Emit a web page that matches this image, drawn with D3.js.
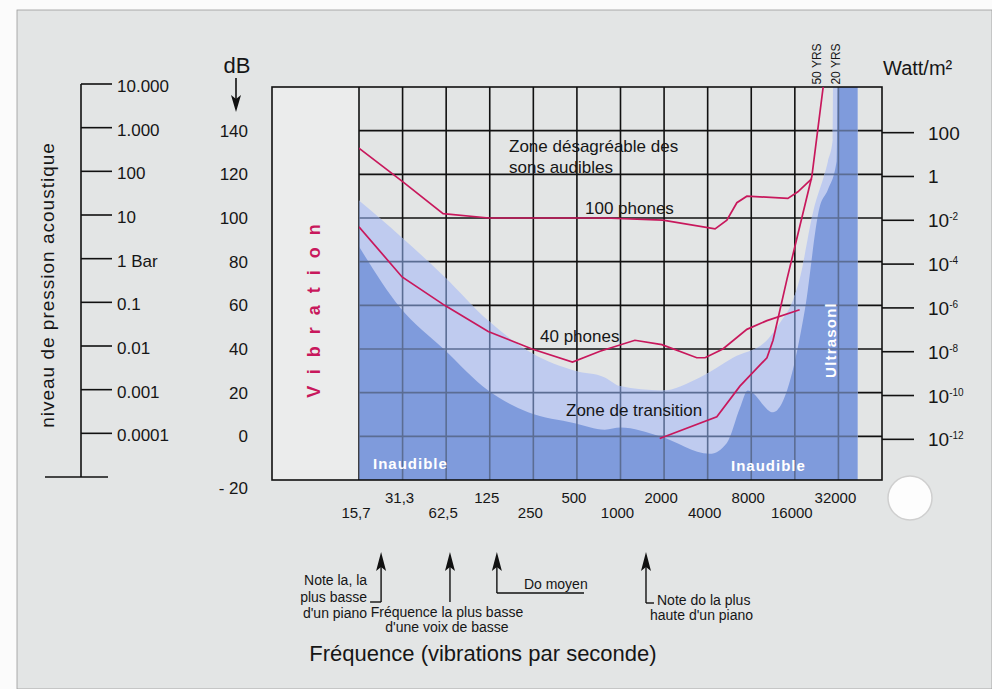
<!DOCTYPE html>
<html>
<head>
<meta charset="utf-8">
<script src="https://cdn.jsdelivr.net/npm/d3@7"></script>
<style>
	body { margin: 0; background: #fff; }
	svg { display: block; }
	text { font-family: 'Liberation Sans', Arial, sans-serif; fill: #161616; }
	.nar { font-family: 'Liberation Sans Narrow', 'Liberation Sans', sans-serif; }
</style>
</head>
<body>
<div id="chart"></div>
<script>
// x axis: octave bands (Hz) and printed labels
const freqTicks = [15.625, 31.25, 62.5, 125, 250, 500, 1000, 2000, 4000, 8000, 16000, 32000];
const freqLabels = ['15,7', '31,3', '62,5', '125', '250', '500', '1000', '2000', '4000', '8000', '16000', '32000'];

// left scales
const dbTicks = [140, 120, 100, 80, 60, 40, 20, 0, -20];
const pressureTicks = [10000, 1000, 100, 10, 1, 0.1, 0.01, 0.001, 0.0001];
const pressureLabels = ['10.000', '1.000', '100', '10', '1 Bar', '0.1', '0.01', '0.001', '0.0001'];

// right scale
const wattTicks = [1e2, 1, 1e-2, 1e-4, 1e-6, 1e-8, 1e-10, 1e-12];
const wattBase = ['100', '1', '10', '10', '10', '10', '10', '10'];
const wattExp = ['', '', '-2', '-4', '-6', '-8', '-10', '-12'];

// pale zone (upper edge of transition zone), Hz / dB
const paleFreq = [15.6, 31, 61, 122, 245, 483, 779, 993, 1931, 3530, 5978, 10267, 12641, 15455, 17267, 21260, 27100, 29240, 29400, 43400];
const paleDb = [108, 91, 73, 53, 38, 30, 27, 23, 21, 27, 36, 44, 52, 62, 72, 102, 126, 136, 165, 165];

// dark zone (inaudible), Hz / dB
const darkFreq = [15.6, 30, 60, 122, 230, 483, 779, 1000, 1866, 4141, 5428, 6680, 7568, 11314, 13000, 18767, 23750, 27100, 31100, 31700, 43400];
const darkDb = [87, 59, 40, 21, 11, 6, 3, 4, 0, -8, -3, 13, 21, 11, 15, 58, 105, 113, 126, 165, 165];

// isophone curves
const phon100Freq = [15.6, 30.8, 59.5, 123, 779, 1959, 4500, 5428, 6363, 7464, 14322, 16797, 20970];
const phon100Db = [132, 117, 102, 100, 100, 99, 95, 99, 107, 110, 109, 112, 118];
const phon40Freq = [15.6, 31, 61, 122, 245, 466, 722, 1257, 1931, 3364, 3837, 5096, 7464, 10267, 17267];
const phon40Db = [96, 73, 60, 48, 40, 34, 39, 44, 42, 36, 36, 40, 49, 53, 58];

// upper limit of hearing at 50 years
const yrs50Freq = [1866, 4627, 6680, 10267, 11314, 14125, 20970, 25110];
const yrs50Db = [-1, 9, 23, 36, 44, 72, 119, 160];

// piano / voice markers
const noteFreqs = [22.2, 66.4, 140, 1500];

const W = 992, H = 689;
const svg = d3.select('#chart').append('svg').attr('width', W).attr('height', H);

// page
svg.append('rect').attr('width', W).attr('height', H).attr('fill', '#fbfbfb');
svg.append('rect').attr('x', 17).attr('y', 10).attr('width', W - 17).attr('height', H - 10)
	.attr('fill', '#e3e5e5').attr('stroke', '#9a9a9a').attr('stroke-width', 0.8);

const x = d3.scaleLog().base(2).domain([15.625, 64000]).range([359, 882]);
const y = d3.scaleLinear().domain([-20, 160]).range([480, 87]);
const pressure = d3.scaleLog().domain([1e-4, 1e4]).range([y(0) - 3, y(160) - 3]);
const watt = d3.scaleLog().domain([1e-12, 1e2]).range([y(0) + 3, y(140) + 2]);

const x0 = 272;
// vibration column
svg.append('rect').attr('x', x0).attr('y', y(160)).attr('width', x(15.625) - x0).attr('height', y(-20) - y(160))
	.attr('fill', '#ebecec');

const defs = svg.append('defs');
defs.append('clipPath').attr('id', 'plotClip').append('rect')
	.attr('x', x(15.625)).attr('y', y(160)).attr('width', x(64000) - x(15.625)).attr('height', y(-20) - y(160));

const area = d3.area()
	.x(d => x(d[0]))
	.y0(y(-20))
	.y1(d => y(d[1]))
	.curve(d3.curveMonotoneX);
const paleData = d3.zip(paleFreq, paleDb);
const darkData = d3.zip(darkFreq, darkDb);

defs.append('clipPath').attr('id', 'blueClip').append('path').attr('d', area(paleData));

// grid (black)
function drawGrid(g, color) {
	g.selectAll('.v')
		.data(freqTicks)
		.join('line')
		.attr('x1', d => x(d)).attr('x2', d => x(d))
		.attr('y1', y(160)).attr('y2', y(-20))
		.attr('stroke', color).attr('stroke-width', 1.6);
	g.selectAll('.h')
		.data([0, 20, 40, 60, 80, 100, 120, 140])
		.join('line')
		.attr('x1', x(15.625)).attr('x2', x(64000))
		.attr('y1', d => y(d)).attr('y2', d => y(d))
		.attr('stroke', color).attr('stroke-width', 1.6);
}
drawGrid(svg.append('g'), '#111');

// zones
const zones = svg.append('g').attr('clip-path', 'url(#plotClip)');
zones.append('path').attr('d', area(paleData)).attr('fill', '#bfcbef');
zones.append('path').attr('d', area(darkData)).attr('fill', '#7f9bdc');

// grid seen through the blue
drawGrid(svg.append('g').attr('clip-path', 'url(#blueClip)'), '#5b6d93');

// frame
svg.append('rect').attr('x', x0).attr('y', y(160)).attr('width', x(64000) - x0).attr('height', y(-20) - y(160))
	.attr('fill', 'none').attr('stroke', '#111').attr('stroke-width', 1.6);

// right ticks
svg.append('g').selectAll('line')
	.data(wattTicks)
	.join('line')
	.attr('x1', x(64000)).attr('x2', 914)
	.attr('y1', d => watt(d)).attr('y2', d => watt(d))
	.attr('stroke', '#111').attr('stroke-width', 1.6);

// curves
const line = d3.line().x(d => x(d[0])).y(d => y(d[1]));
const curves = svg.append('g').attr('clip-path', 'url(#plotClip)')
	.attr('fill', 'none').attr('stroke', '#c8185c').attr('stroke-width', 1.7);
curves.append('path').attr('d', line(d3.zip(phon100Freq, phon100Db)));
curves.append('path').attr('d', line(d3.zip(phon40Freq, phon40Db)));
curves.append('path').attr('d', line(d3.zip(yrs50Freq, yrs50Db)));

// texts in the plot
const t = svg.append('g').style('font-size', '17px');
t.append('text').attr('x', 509).attr('y', 152).text('Zone désagréable des');
t.append('text').attr('x', 509).attr('y', 173).text('sons audibles');
t.append('text').attr('x', 585).attr('y', 214).text('100 phones');
t.append('text').attr('x', 540).attr('y', 342).text('40 phones');
t.append('text').attr('x', 566).attr('y', 416).text('Zone de transition');

svg.append('text').attr('x', 373).attr('y', 469).style('font-size', '15px').style('font-weight', 'bold')
	.style('letter-spacing', '1px').style('fill', '#fff').text('Inaudible');
svg.append('text').attr('x', 731).attr('y', 471).style('font-size', '15px').style('font-weight', 'bold')
	.style('letter-spacing', '1px').style('fill', '#fff').text('Inaudible');
svg.append('text').attr('transform', 'translate(836,340) rotate(-90)').attr('text-anchor', 'middle')
	.style('font-size', '15px').style('font-weight', 'bold').style('letter-spacing', '1.2px')
	.style('fill', '#fff').text('Ultrasonl');
svg.append('text').attr('transform', 'translate(320,305) rotate(-90)').attr('text-anchor', 'middle')
	.style('font-size', '18px').style('font-weight', 'bold').style('letter-spacing', '12px')
	.style('fill', '#c8185c').text('Vibration');

svg.append('text').attr('class', 'nar').attr('transform', 'translate(821,64) rotate(-90)').attr('text-anchor', 'middle')
	.style('font-size', '12px').text('50 YRS');
svg.append('text').attr('class', 'nar').attr('transform', 'translate(840,64) rotate(-90)').attr('text-anchor', 'middle')
	.style('font-size', '12px').text('20 YRS');

// x labels
svg.append('g').attr('class', 'nar').style('font-size', '15px').attr('text-anchor', 'middle')
	.selectAll('text')
	.data(freqTicks)
	.join('text')
	.attr('x', d => x(d) - 3)
	.attr('y', (d, i) => (i % 2 ? 503 : 518))
	.text((d, i) => freqLabels[i]);

// dB labels
svg.append('g').attr('class', 'nar').style('font-size', '17px').attr('text-anchor', 'end')
	.selectAll('text')
	.data(dbTicks)
	.join('text')
	.attr('x', 248)
	.attr('y', d => y(d) + (d === -20 ? 14 : 6))
	.text(d => (d < 0 ? '- ' + Math.abs(d) : d));
svg.append('text').attr('class', 'nar').attr('x', 237).attr('y', 73).attr('text-anchor', 'middle')
	.style('font-size', '22px').text('dB');
svg.append('line').attr('x1', 236).attr('x2', 236).attr('y1', 78).attr('y2', 100)
	.attr('stroke', '#111').attr('stroke-width', 1.6);
svg.append('path').attr('d', 'M236,112L231,95L236,99L241,95Z').attr('fill', '#111');

// pressure axis
const pa = svg.append('g');
pa.append('line').attr('x1', 81).attr('x2', 81).attr('y1', pressure(1e4)).attr('y2', 477)
	.attr('stroke', '#111').attr('stroke-width', 1.6);
pa.append('line').attr('x1', 45).attr('x2', 108).attr('y1', 477).attr('y2', 477)
	.attr('stroke', '#111').attr('stroke-width', 1.6);
pa.selectAll('.tk')
	.data(pressureTicks)
	.join('line')
	.attr('x1', 81).attr('x2', 112)
	.attr('y1', d => pressure(d)).attr('y2', d => pressure(d))
	.attr('stroke', '#111').attr('stroke-width', 1.6);
pa.selectAll('text')
	.data(pressureTicks)
	.join('text')
	.attr('class', 'nar')
	.style('font-size', '17px')
	.attr('x', 117)
	.attr('y', d => pressure(d) + 8)
	.text((d, i) => pressureLabels[i]);
svg.append('text').attr('transform', 'translate(54,285) rotate(-90)').attr('text-anchor', 'middle')
	.style('font-size', '19px').style('letter-spacing', '1px').text('niveau de pression acoustique');

// watt axis labels
const wl = svg.append('g').attr('class', 'nar').style('font-size', '19px')
	.selectAll('text')
	.data(wattTicks)
	.join('text')
	.attr('class', 'nar')
	.attr('x', 928)
	.attr('y', d => watt(d) + 7);
wl.append('tspan').text((d, i) => wattBase[i]);
wl.append('tspan').attr('dy', -7).style('font-size', '10px').text((d, i) => wattExp[i]);
svg.append('text').attr('x', 883).attr('y', 75).style('font-size', '20px').text('Watt/m²');

// markers under the axis
const ann = svg.append('g').attr('class', 'nar').style('font-size', '14px');
noteFreqs.forEach((f, i) => {
	const ax = x(f);
	const bottom = [602, 602, 593, 603][i];
	ann.append('path').attr('d', `M${ax},552L${ax - 5},571L${ax},567L${ax + 5},571Z`).attr('fill', '#111');
	ann.append('line').attr('x1', ax).attr('x2', ax).attr('y1', 566).attr('y2', bottom)
		.attr('stroke', '#111').attr('stroke-width', 1.4);
});
const a0 = x(noteFreqs[0]), a1 = x(noteFreqs[1]), a2 = x(noteFreqs[2]), a3 = x(noteFreqs[3]);
ann.append('line').attr('x1', a0 - 11).attr('x2', a0).attr('y1', 602).attr('y2', 602).attr('stroke', '#111').attr('stroke-width', 1.4);
ann.append('text').attr('x', a0 - 14).attr('y', 585).attr('text-anchor', 'end').text('Note la, la');
ann.append('text').attr('x', a0 - 14).attr('y', 602).attr('text-anchor', 'end').text('plus basse');
ann.append('text').attr('x', a0 - 14).attr('y', 618).attr('text-anchor', 'end').text("d'un piano");
ann.append('text').attr('x', a1 - 3).attr('y', 617).attr('text-anchor', 'middle').text('Fréquence la plus basse');
ann.append('text').attr('x', a1 - 3).attr('y', 632).attr('text-anchor', 'middle').text("d'une voix de basse");
ann.append('line').attr('x1', a2).attr('x2', 584).attr('y1', 593).attr('y2', 593).attr('stroke', '#111').attr('stroke-width', 1.4);
ann.append('text').attr('x', a2 + 27).attr('y', 589).text('Do moyen');
ann.append('line').attr('x1', a3).attr('x2', a3 + 8).attr('y1', 603).attr('y2', 603).attr('stroke', '#111').attr('stroke-width', 1.4);
ann.append('text').attr('x', a3 + 11).attr('y', 605).text('Note do la plus');
ann.append('text').attr('x', a3 + 4).attr('y', 620).text("haute d'un piano");

svg.append('text').attr('class', 'nar').attr('x', 483).attr('y', 661).attr('text-anchor', 'middle')
	.style('font-size', '22px').text('Fréquence (vibrations par seconde)');

// punch hole
svg.append('circle').attr('cx', 910).attr('cy', 498).attr('r', 22)
	.attr('fill', '#fdfdfd').attr('stroke', '#cfcfcf').attr('stroke-width', 1.5);
</script>
</body>
</html>
